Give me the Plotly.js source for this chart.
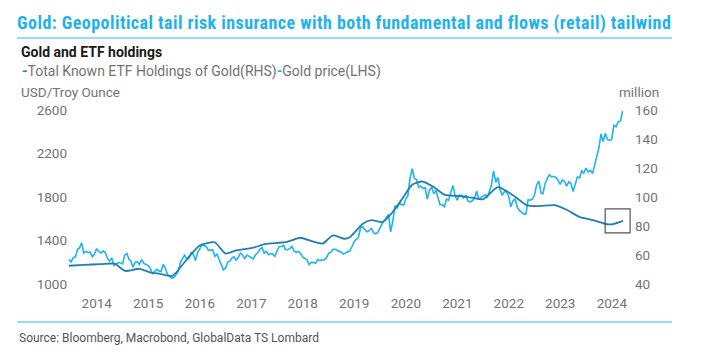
<!DOCTYPE html>
<html>
<head>
<meta charset="utf-8">
<script src="https://cdn.plot.ly/plotly-3.0.1.min.js"></script>
<style>
html,body{margin:0;padding:0;background:#fff;}
#chart{width:701px;height:354px;}
.gtitle{letter-spacing:0.45px;}
</style>
</head>
<body>
<div id="chart"></div>
<script>
// ---------- DATA ----------
// Gold price (USD/troy oz), semi-monthly readings starting 2013-12-16
const goldStart = '2013-12-16';
const goldPrice = [
  1225,
  1204,1242, 1250,1320, 1330,1380, 1285,1300, 1290,1293, 1250,1275, 1325,1300, 1285,1305, 1287,1235, 1210,1240, 1170,1185, 1195,1195,
  1185,1265, 1280,1225, 1210,1155, 1200,1205, 1180,1225, 1190,1180, 1170,1145, 1095,1115, 1135,1120, 1115,1180, 1142,1085, 1065,1055,
  1060,1090, 1118,1205, 1235,1265, 1230,1235, 1290,1275, 1215,1290, 1320,1362, 1352,1345, 1310,1315, 1316,1255, 1275,1225, 1175,1130,
  1150,1200, 1212,1240, 1250,1220, 1245,1285, 1265,1235, 1265,1255, 1242,1230, 1268,1285, 1320,1335, 1283,1300, 1270,1280, 1275,1255,
  1305,1345, 1345,1355, 1318,1315, 1325,1345, 1305,1290, 1300,1280, 1250,1240, 1222,1178, 1200,1198, 1190,1225, 1215,1220, 1222,1240,
  1282,1292, 1320,1320, 1313,1302, 1292,1275, 1283,1295, 1305,1345, 1390,1410, 1430,1520, 1525,1500, 1480,1490, 1510,1470, 1462,1475,
  1520,1555, 1585,1620, 1640,1480, 1580,1720, 1700,1740, 1735,1725, 1780,1810, 1975,2060, 1970,1960, 1890,1900, 1880,1885, 1780,1860,
  1890,1830, 1860,1790, 1730,1730, 1710,1780, 1770,1840, 1905,1815, 1770,1815, 1815,1790, 1815,1760, 1755,1765, 1790,1855, 1780,1795,
  1805,1820, 1800,1870, 1910,2040, 1935,1980, 1870,1815, 1850,1845, 1810,1710, 1765,1780, 1705,1675, 1660,1645, 1645,1775, 1770,1780,
  1820,1915, 1945,1835, 1830,1920, 1970,2005, 1985,1990, 1980,1955, 1915,1955, 1945,1900, 1940,1925, 1850,1920, 1985,1975, 2040,2020,
  2065,2030, 2045,2015, 2085,2160, 2250,2380, 2310,2385, 2330,2320, 2330,2460, 2445,2490, 2500,2590
];
// Total Known ETF Holdings of Gold (million troy oz)
const etfDates = [
  '2013-12-16','2014-04-01','2014-08-01','2014-11-05','2015-01-20','2015-05-01','2015-07-15','2015-09-25','2015-12-20',
  '2016-03-15','2016-07-01','2016-10-15','2016-12-31','2017-03-10','2017-07-25','2017-10-10','2018-03-01','2018-06-15',
  '2018-09-25','2018-11-20','2019-02-01','2019-04-25','2019-06-01','2019-09-01','2019-11-01','2020-01-20','2020-04-01',
  '2020-06-15','2020-08-15','2020-10-25','2021-01-10','2021-04-05','2021-07-20','2021-10-15','2022-01-01','2022-04-15',
  '2022-07-30','2022-11-05','2023-01-20','2023-05-25','2023-08-20','2023-11-15','2024-02-20','2024-05-30','2024-07-08','2024-09-20'
];
const etfHoldings = [
  52.6,53.2,53.7,54.0,49.0,50.5,48.0,47.0,45.6,
  55.0,66.5,68.8,61.0,63.0,65.3,67.7,68.8,71.9,
  68.8,67.9,73.5,71.2,72.3,81.6,84.0,82.8,89.8,
  100.0,108.4,110.7,107.2,101.4,100.7,99.5,98.4,106.8,
  101.4,94.4,93.7,94.4,91.0,86.3,84.0,81.2,81.2,83.5
];
const yearLabels = ['2014','2015','2016','2017','2018','2019','2020','2021','2022','2023','2024'];
const leftTicks = [1000,1400,1800,2200,2600];
const rightTicks = [40,60,80,100,120,140,160];

// ---------- build semi-monthly dates for gold ----------
function pad(n){return (n<10?'0':'')+n;}
const goldDates = [];
(function(){
  let y = +goldStart.slice(0,4), m = +goldStart.slice(5,7), half = 1; // start at 16th
  for (let i=0;i<goldPrice.length;i++){
    goldDates.push(y+'-'+pad(m)+'-'+(half?'16':'01'));
    if (half){ half=0; m++; if(m>12){m=1;y++;} } else { half=1; }
  }
})();

// ---------- geometry ----------
const W=701,H=354, L=68, R=634, T=110, B=284;
const px = x => (x-L)/(R-L);
const py = y => (B-y)/(B-T);

const gray='#737373';
const cyan='#1db4f0';
const dark='#2180b2';

const traces = [
  {x: goldDates, y: goldPrice, type:'scatter', mode:'lines',
   line:{color:cyan, width:1.6}, name:'Gold price(LHS)', showlegend:false},
  {x: etfDates, y: etfHoldings, type:'scatter', mode:'lines', yaxis:'y2',
   line:{color:dark, width:1.8, shape:'spline', smoothing:0.6}, name:'Total Known ETF Holdings of Gold(RHS)', showlegend:false}
];

const lastD = etfDates[etfDates.length-1], lastV = etfHoldings[etfHoldings.length-1];

const layout = {
  width:W, height:H,
  margin:{l:L, r:W-R, t:T, b:H-B, pad:0},
  paper_bgcolor:'#fff', plot_bgcolor:'#fff',
  font:{family:'Roboto, sans-serif', color:gray, size:13},
  title:{text:'<b>Gold: Geopolitical tail risk insurance with both fundamental and flows (retail) tailwind</b>',
    font:{family:'"Liberation Sans Narrow", "Roboto Condensed", Roboto, sans-serif', size:18, color:'#1fb2ee'},
    xref:'container', yref:'container', x:17/W, xanchor:'left', y:1-23/H, yanchor:'middle'},
  xaxis:{type:'date', range:['2013-12-10','2024-12-06'], showgrid:false, zeroline:false, showline:false,
    tickvals: yearLabels.map(y=>y+'-07-02'), ticktext: yearLabels,
    ticks:'outside', ticklen:7, tickcolor:'rgba(0,0,0,0)', tickfont:{size:13.5, color:gray}},
  yaxis:{range:[1000,2600], tickvals:leftTicks, showgrid:false, zeroline:false, showline:false,
    ticks:'', tickfont:{size:13.5, color:gray}},
  yaxis2:{range:[40,160], tickvals:rightTicks, overlaying:'y', side:'right', showgrid:false, zeroline:false, showline:false,
    ticks:'', tickfont:{size:13.5, color:gray}},
  annotations:[
    {text:'<b>Gold and ETF holdings</b>', xref:'paper', yref:'paper', x:px(19), y:py(52), xanchor:'left', yanchor:'middle',
      showarrow:false, font:{size:14, color:'#1a1a1a'}},
    {text:'<span style="color:'+dark+'"><b>-</b></span>Total Known ETF Holdings of Gold(RHS)<span style="color:'+cyan+'"><b>-</b></span>Gold price(LHS)',
      xref:'paper', yref:'paper', x:px(20), y:py(71), xanchor:'left', yanchor:'middle', showarrow:false, font:{size:14, color:gray}},
    {text:'USD/Troy Ounce', xref:'paper', yref:'paper', x:px(19), y:py(92), xanchor:'left', yanchor:'middle',
      showarrow:false, font:{size:13.5, color:gray}},
    {text:'million', xref:'paper', yref:'paper', x:px(661), y:py(92), xanchor:'right', yanchor:'middle',
      showarrow:false, font:{size:13.5, color:gray}},
    {text:'Source: Bloomberg, Macrobond, GlobalData TS Lombard', xref:'paper', yref:'paper', x:px(17), y:py(338),
      xanchor:'left', yanchor:'middle', showarrow:false, font:{size:12, color:'#555'}}
  ],
  shapes:[
    {type:'line', xref:'paper', yref:'paper', x0:px(17), x1:px(672), y0:py(38), y1:py(38), line:{color:'#6fd3f7', width:1.5}},
    {type:'line', xref:'paper', yref:'paper', x0:px(17), x1:px(672), y0:py(322), y1:py(322), line:{color:'#6fd3f7', width:1.5}},
    {type:'rect', xref:'x', yref:'y2', xsizemode:'pixel', ysizemode:'pixel', xanchor:lastD, yanchor:lastV,
      x0:-18, x1:7, y0:-12, y1:12, line:{color:'#555', width:1.2}}
  ]
};

Plotly.newPlot('chart', traces, layout, {staticPlot:true, displayModeBar:false});
</script>
</body>
</html>
